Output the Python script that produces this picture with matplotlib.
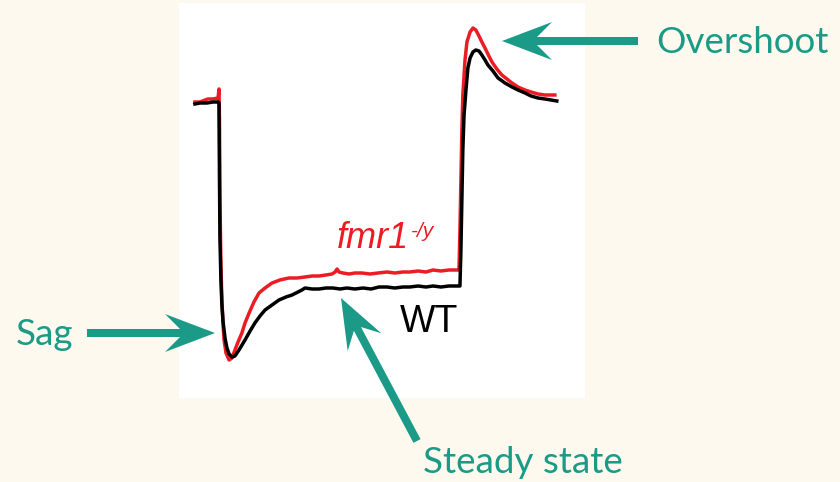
import matplotlib.pyplot as plt
from matplotlib.patches import Polygon
from matplotlib.transforms import Affine2D
import numpy as np

# membrane voltage (mV) vs time (ms), hyperpolarising step 100-1100 ms
t_wt = [0, 21, 50, 75, 96, 100, 102, 104, 108, 112, 117, 125, 133, 142, 154,
        166, 183, 208, 229, 249, 270, 291, 320, 349, 378, 403, 428, 444, 457,
        486, 515, 544, 573, 602, 631, 664, 698, 731, 764, 797, 830, 863, 892,
        926, 959, 988, 1021, 1054, 1088, 1100,
        1104, 1108, 1112, 1117, 1125, 1133, 1142, 1154, 1166, 1179, 1191, 1204,
        1216, 1237, 1258, 1287, 1316, 1341, 1370, 1395, 1424, 1453, 1478, 1502]
v_wt = [-65.1, -65.0, -65.0, -64.9, -64.9, -65.0, -72.7, -78.7, -82.7, -85.2,
        -86.9, -88.5, -89.5, -90.1, -90.4,
        -90.3, -89.7, -88.7, -87.8, -87.0, -86.3, -85.7, -85.2, -84.7, -84.4,
        -84.2, -83.9, -83.7, -83.5, -83.6, -83.6, -83.5, -83.5, -83.6, -83.5,
        -83.6, -83.5, -83.6, -83.4, -83.4, -83.5, -83.4, -83.4, -83.3, -83.4,
        -83.3, -83.4, -83.3, -83.3, -83.3,
        -79.7, -74.7, -69.7, -66.2, -63.7, -61.5, -60.5, -59.9, -59.7, -59.8,
        -60.2, -60.7, -61.2, -61.8, -62.5, -63.0, -63.4, -63.7, -64.0, -64.3,
        -64.5, -64.6, -64.7, -64.8]

t_fmr1 = [0, 21, 42, 54, 75, 96, 100, 102, 104, 108, 112, 117, 121, 129, 142,
          154, 166, 179, 195, 208, 225, 245, 266, 291, 320, 353, 390, 424, 457,
          486, 515, 544, 569, 582, 590, 598, 614, 640, 664, 693, 727, 760, 797,
          830, 863, 892, 926, 959, 988, 1021, 1054, 1088, 1096,
          1100, 1104, 1108, 1112, 1121, 1129, 1142, 1154, 1166, 1179, 1191, 1204,
          1220, 1233, 1253, 1274, 1295, 1316, 1341, 1370, 1395, 1424, 1453, 1478,
          1494]
v_fmr1 = [-64.9, -64.9, -64.7, -64.6, -64.6, -64.5, -63.6, -66.7, -74.7, -81.2,
          -84.7, -87.2, -88.7, -90.0, -90.7,
          -90.5, -89.7, -88.9, -88.0, -87.0, -86.0, -84.9, -84.0, -83.5, -83.0,
          -82.7, -82.5, -82.5, -82.4, -82.3, -82.3, -82.2, -82.1, -81.9, -81.6,
          -81.9, -82.0, -82.1, -82.0, -82.0, -82.1, -82.0, -81.9, -82.0, -81.9,
          -81.9, -81.8, -81.9, -81.7, -81.8, -81.7, -81.7, -81.7,
          -77.7, -72.7, -67.7, -64.2, -60.7, -58.9, -57.9, -57.5, -57.7, -58.3,
          -58.9, -59.5, -60.3, -60.9, -61.6, -62.2, -62.6, -63.0, -63.4, -63.7,
          -63.9, -64.1, -64.2, -64.2, -64.2]

RED = '#ec1c24'
TEAL = '#1b9a87'
W, H = 840, 482

fig = plt.figure(figsize=(W / 100, H / 100), dpi=100, facecolor='#fdf9ee')
ax = fig.add_axes([179 / W, 1 - 398 / H, 406 / W, 395 / H])
ax.set_facecolor('white')
ax.plot(t_fmr1, v_fmr1, color=RED, lw=2.5, solid_joinstyle='round')
ax.plot(t_wt, v_wt, color='black', lw=2.5, solid_joinstyle='round')
ax.set_xlim(-66, 1619)
ax.set_ylim(-94.5, -55.0)
ax.set_xticks([])
ax.set_yticks([])
for s in ax.spines.values():
    s.set_visible(False)

lab = ax.text(590, -79.5, 'fmr1', color=RED, fontsize=26, style='italic',
              family='Liberation Sans', va='baseline')
ax.annotate('-/y', xy=(1, 1), xycoords=lab, xytext=(1, -1),
            textcoords='offset points', color=RED, fontsize=15,
            style='italic', family='Liberation Sans', va='top')
ax.text(851, -87.9, 'WT', color='black', fontsize=27,
        family='Liberation Sans', va='baseline')

# figure pixel coords, origin top-left
px = Affine2D().scale(1 / W, -1 / H).translate(0, 1) + fig.transFigure


def arrow(tail, tip, shaft=4, head=50, half=19, notch=15):
    tail = np.asarray(tail, float)
    tip = np.asarray(tip, float)
    u = (tip - tail) / np.hypot(*(tip - tail))
    p = np.array([-u[1], u[0]])
    neck = tip - u * (head - notch)
    back = tip - u * head
    pts = [tail + p * shaft, neck + p * shaft, back + p * half, tip,
           back - p * half, neck - p * shaft, tail - p * shaft]
    fig.add_artist(Polygon(pts, closed=True, transform=px, color=TEAL, lw=0))


arrow((638, 41), (502, 41))
arrow((87, 333), (215, 333))
arrow((417, 441), (341, 298))

kw = dict(transform=px, color=TEAL, fontsize=26.5, family='Lato', va='baseline')
fig.text(656, 53, 'Overshoot', **kw)
fig.text(16, 345, 'Sag', **kw)
fig.text(423, 473, 'Steady state', **kw)

fig.savefig('out.png', dpi=100, facecolor=fig.get_facecolor())
